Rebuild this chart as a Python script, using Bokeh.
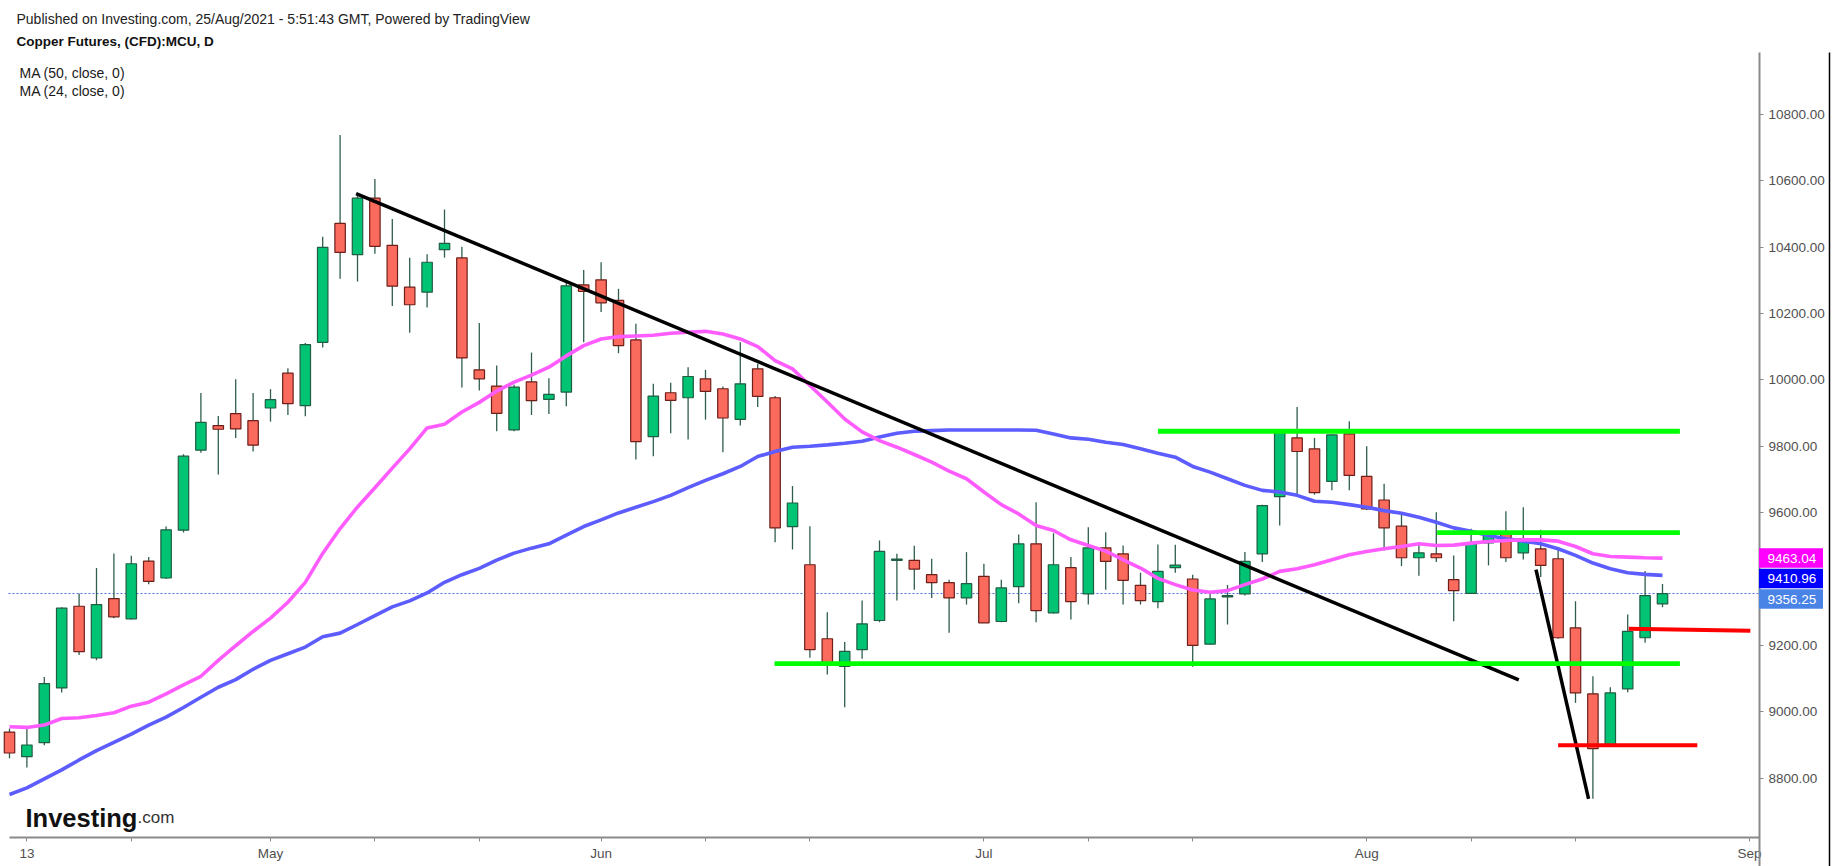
from bokeh.plotting import figure
from bokeh.models import (FixedTicker, PrintfTickFormatter, Label, Range1d,
                          ColumnDataSource, LinearAxis)
from bokeh.core.properties import value
from bokeh.embed import file_html
from bokeh.resources import INLINE

# ---------------- data ----------------
# bar index: 0 = 13 Apr 2021, trading days only (UK holidays skipped)
bar_index = list(range(-1, 95))
opens = [8939, 8865, 8907, 9072, 9318, 9162, 9341, 9280, 9454, 9403,
         9547, 9788, 9862, 9898, 9877, 9915, 10020, 9922, 10113, 10471,
         10377, 10547, 10405, 10279, 10264, 10392, 10367, 10030, 9981, 9849,
         9994, 9941, 9963, 10286, 10301, 10239, 10120, 9829, 9961, 9946,
         10003, 9973, 9881, 10033, 9946, 9558, 9443, 9220, 9137, 9187,
         9275, 9456, 9456, 9413, 9389, 9343, 9408, 9272, 9377, 9506,
         9298, 9434, 9355, 9494, 9476, 9381, 9332, 9434, 9400, 9204,
         9346, 9355, 9476, 9648, 9825, 9792, 9694, 9837, 9709, 9638,
         9559, 9464, 9476, 9398, 9357, 9509, 9539, 9479, 9491, 9461,
         9253, 9054, 8899, 9069, 9223, 9325]
highs = [8950, 8955, 9105, 9315, 9356, 9433, 9477, 9470, 9466, 9558,
         9776, 9960, 9891, 10002, 9960, 9972, 10035, 10111, 10431, 10737,
         10560, 10605, 10484, 10368, 10378, 10513, 10401, 10171, 10043, 9985,
         10082, 10005, 10292, 10331, 10354, 10274, 10169, 9988, 9991, 10038,
         10030, 9980, 10113, 10048, 9951, 9680, 9559, 9300, 9210, 9335,
         9516, 9476, 9500, 9461, 9398, 9481, 9446, 9398, 9534, 9631,
         9538, 9466, 9556, 9541, 9501, 9419, 9504, 9503, 9413, 9356,
         9382, 9481, 9624, 9852, 9918, 9825, 9836, 9875, 9800, 9687,
         9594, 9511, 9601, 9471, 9551, 9546, 9604, 9616, 9548, 9491,
         9333, 9107, 9074, 9293, 9424, 9385]
lows = [8860, 8832, 8899, 9058, 9171, 9155, 9282, 9278, 9384, 9400,
        9540, 9780, 9715, 9825, 9784, 9874, 9894, 9890, 10097, 10304,
        10296, 10380, 10222, 10142, 10218, 10368, 9977, 9968, 9845, 9845,
        9894, 9897, 9920, 10113, 10204, 10080, 9760, 9770, 9839, 9820,
        9880, 9782, 9862, 9918, 9511, 9489, 9163, 9112, 9014, 9160,
        9270, 9335, 9368, 9343, 9238, 9323, 9268, 9270, 9327, 9270,
        9296, 9278, 9323, 9368, 9323, 9323, 9312, 9419, 9136, 9202,
        9263, 9350, 9451, 9561, 9654, 9654, 9667, 9667, 9608, 9486,
        9439, 9410, 9451, 9273, 9357, 9441, 9451, 9459, 9406, 9220,
        9027, 8738, 8897, 9059, 9208, 9315]
closes = [8876, 8900, 9085, 9312, 9181, 9323, 9286, 9446, 9393, 9548,
          9770, 9872, 9851, 9852, 9803, 9940, 9928, 10106, 10399, 10384,
          10547, 10402, 10282, 10226, 10354, 10411, 10066, 10003, 9899, 9978,
          9937, 9956, 10283, 10266, 10232, 10103, 9814, 9951, 9938, 10010,
          9965, 9885, 9988, 9950, 9554, 9629, 9187, 9145, 9182, 9265,
          9483, 9460, 9430, 9389, 9343, 9386, 9268, 9373, 9506, 9305,
          9443, 9332, 9494, 9453, 9396, 9335, 9423, 9442, 9200, 9340,
          9350, 9453, 9621, 9845, 9784, 9660, 9834, 9712, 9611, 9554,
          9464, 9479, 9464, 9365, 9506, 9533, 9464, 9521, 9441, 9223,
          9057, 8889, 9057, 9242, 9350, 9356.25]

ma24 = [8955, 8953, 8960, 8980, 8982, 8989, 8997, 9017, 9029, 9054,
        9081, 9107, 9155, 9199, 9242, 9282, 9330, 9390, 9477, 9552,
        9617, 9675, 9734, 9792, 9855, 9866, 9903, 9932, 9966, 9993,
        10014, 10038, 10072, 10103, 10123, 10130, 10132, 10134, 10140, 10143,
        10146, 10138, 10123, 10100, 10058, 10033, 9983, 9933, 9882, 9843,
        9817, 9797, 9775, 9752, 9725, 9702, 9662, 9624, 9596, 9561,
        9546, 9518, 9501, 9484, 9458, 9433, 9402, 9383, 9367, 9360,
        9365, 9383, 9400, 9423, 9431, 9443, 9458, 9473, 9483, 9491,
        9498, 9506, 9501, 9502, 9508, 9513, 9516, 9518, 9518, 9514,
        9498, 9476, 9468, 9466, 9464, 9463.04]
ma50 = [8751, 8771, 8798, 8825, 8855, 8883, 8908, 8933, 8960, 8984,
        9013, 9044, 9074, 9097, 9128, 9155, 9175, 9195, 9226, 9237,
        9263, 9290, 9316, 9334, 9358, 9390, 9413, 9432, 9457, 9478,
        9493, 9506, 9532, 9558, 9578, 9599, 9616, 9633, 9652, 9675,
        9697, 9717, 9739, 9769, 9784, 9797, 9800, 9804, 9809, 9815,
        9828, 9839, 9845, 9847, 9849, 9849, 9849, 9849, 9849, 9848,
        9837, 9825, 9821, 9812, 9805, 9792, 9779, 9767, 9739, 9722,
        9702, 9682, 9667, 9662, 9652, 9634, 9631, 9624, 9616, 9606,
        9598, 9586, 9571, 9554, 9544, 9531, 9521, 9514, 9506, 9491,
        9471, 9448, 9431, 9419, 9414, 9410.96]

last_price = 9356.25
tag_values = [9463.04, 9410.96, 9356.25]
tag_texts = ["9463.04", "9410.96", "9356.25"]
tag_colors = ["#ff00ff", "#0000ff", "#4a83e6"]

price_ticks = [8800, 9000, 9200, 9400, 9600, 9800, 10000, 10200, 10400, 10600, 10800]
date_ticks = [0, 6, 14, 20, 26, 33, 39, 45, 55, 61, 67, 77, 83, 89, 99]
date_labels = ["13", "", "May", "", "", "Jun", "", "", "Jul", "", "", "Aug", "", "", "Sep"]

# drawn studies: (bar index, price) end points
trend1_x = [18.92, 85.74]
trend1_y = [10561, 9096]
trend2_x = [86.73, 89.75]
trend2_y = [9428, 8738]
green_lines_x0 = [65.0, 81.05, 42.97]
green_lines_x1 = [95.0, 95.0, 95.0]
green_lines_y = [9845, 9540, 9145]
red_lines_x0 = [92.06, 88.0]
red_lines_x1 = [99.05, 96.0]
red_lines_y0 = [9250, 8899]
red_lines_y1 = [9244, 8899]

# ---------------- helpers: page pixel -> data (for placement only) ----------------
PX_PER_BAR = 17.4
PX_PER_PRICE = 1 / 3.012

def xi(px):
    return (px - 26.4) / PX_PER_BAR

def yp(px):
    return 10800 - (px - 113.7) / PX_PER_PRICE

FONT = "Liberation Sans"
W, H = 1837, 866

p = figure(width=W, height=H, output_backend="svg", toolbar_location=None,
           title=None, x_axis_type=None, y_axis_type=None,
           x_range=Range1d(xi(0), xi(W)), y_range=Range1d(yp(H), yp(0)),
           min_border=0, min_border_left=0, min_border_right=0,
           min_border_top=0, min_border_bottom=0)
p.outline_line_color = None
p.grid.visible = False
p.background_fill_color = "white"
p.border_fill_color = "white"

AXIS_X = xi(1759)      # price scale line position
AXIS_Y = yp(837)       # time scale line position

# price axis (right side, drawn at its fixed location)
yax = LinearAxis(fixed_location=AXIS_X, bounds=(yp(H), yp(52)))
yax.ticker = FixedTicker(ticks=price_ticks)
yax.formatter = PrintfTickFormatter(format="%.2f")
yax.axis_line_color = "#8a8a8a"
yax.axis_line_width = 2
yax.major_tick_line_color = "#8a8a8a"
yax.major_tick_out = 4
yax.major_tick_in = 0
yax.minor_tick_line_color = None
yax.major_label_text_color = "#505050"
yax.major_label_text_font = FONT
yax.major_label_text_font_size = "13.5px"
yax.major_label_standoff = 5
p.add_layout(yax, "right")

# time axis (below, drawn at its fixed location)
xax = LinearAxis(fixed_location=AXIS_Y, bounds=(xi(9), AXIS_X))
xax.ticker = FixedTicker(ticks=date_ticks)
xax.major_label_overrides = {t: l for t, l in zip(date_ticks, date_labels)}
xax.axis_line_color = "#8a8a8a"
xax.axis_line_width = 2
xax.major_tick_line_color = "#8a8a8a"
xax.major_tick_out = 4
xax.major_tick_in = 0
xax.minor_tick_line_color = None
xax.major_label_text_color = "#505050"
xax.major_label_text_font = FONT
xax.major_label_text_font_size = "13.5px"
xax.major_label_standoff = 4
p.add_layout(xax, "below")

# last price dotted line (from left edge to the price scale)
p.segment(x0=[xi(8)], y0=[last_price], x1=[AXIS_X], y1=[last_price],
          line_color="#4a6fe0", line_width=1, line_dash="2 2")

# candles
up = [c >= o for o, c in zip(opens, closes)]
src = ColumnDataSource(dict(
    x=bar_index, o=opens, h=highs, l=lows, c=closes,
    top=[max(o, c) for o, c in zip(opens, closes)],
    bot=[min(o, c) for o, c in zip(opens, closes)],
    fill=["#00c373" if u else "#fa6a5d" for u in up],
    edge=["#1f5e43" if u else "#6e1f1a" for u in up],
))
p.segment(x0="x", y0="h", x1="x", y1="l", source=src, line_color="#2f5e4c", line_width=1.3)
p.vbar(x="x", width=0.6, top="top", bottom="bot", source=src,
       fill_color="fill", line_color="edge", line_width=1.2)

# moving averages
p.line(bar_index, ma50, line_color="#5c5cff", line_width=3.6)
p.line(bar_index, ma24, line_color="#ff5cff", line_width=3.6)

# drawings
p.line(trend1_x, trend1_y, line_color="black", line_width=3.5)
p.line(trend2_x, trend2_y, line_color="black", line_width=3.5)
p.segment(x0=green_lines_x0, y0=green_lines_y, x1=green_lines_x1, y1=green_lines_y,
          line_color="#00ff00", line_width=4.8)
p.segment(x0=red_lines_x0, y0=red_lines_y0, x1=red_lines_x1, y1=red_lines_y1,
          line_color="#ff0000", line_width=4)

# price tags on the scale, stacked so that they do not overlap
TAG_H_PX = 20.5
tag_y = []
for v in tag_values:
    if tag_y:
        v = min(v, tag_y[-1] - TAG_H_PX / PX_PER_PRICE)
    tag_y.append(v)
tag_src = ColumnDataSource(dict(y=tag_y, text=tag_texts, color=tag_colors,
                                x=[xi(1790.5)] * len(tag_y), tx=[xi(1767)] * len(tag_y)))
p.rect(x="x", y="y", width=64, height=19.5, width_units="screen", height_units="screen",
       fill_color="color", line_color=None, source=tag_src, level="overlay")
p.text(x="tx", y="y", text="text", source=tag_src, text_color="white",
       text_font=value(FONT), text_font_size="13.5px", text_baseline="middle",
       text_align="left", level="overlay")

# right border of the chart
p.segment(x0=[xi(1829)], y0=[yp(52)], x1=[xi(1829)], y1=[yp(H)], line_color="black",
          line_width=1.5)

# header texts
def add_text(x, y, text, size="14px", style="normal", color="#1a1a1a",
             baseline="middle"):
    p.add_layout(Label(x=x, y=y, text=text, text_font=FONT, text_font_size=size,
                       text_font_style=style, text_color=color,
                       text_baseline=baseline, text_align="left"))

add_text(xi(16), yp(18), "Published on Investing.com, 25/Aug/2021 - 5:51:43 GMT, Powered by TradingView",
         color="#222222")
add_text(xi(16), yp(41), "Copper Futures, (CFD):MCU, D", size="13.5px", style="bold",
         color="#111111")
add_text(xi(19), yp(72), "MA (50, close, 0)")
add_text(xi(19), yp(90), "MA (24, close, 0)")

# logo
add_text(xi(25), yp(817), "Investing", size="25.5px", style="bold", color="#111111",
         baseline="alphabetic")
add_text(xi(137), yp(817), ".com", size="17px", color="#333333", baseline="alphabetic")

open("out.html", "w").write(file_html(p, INLINE))
